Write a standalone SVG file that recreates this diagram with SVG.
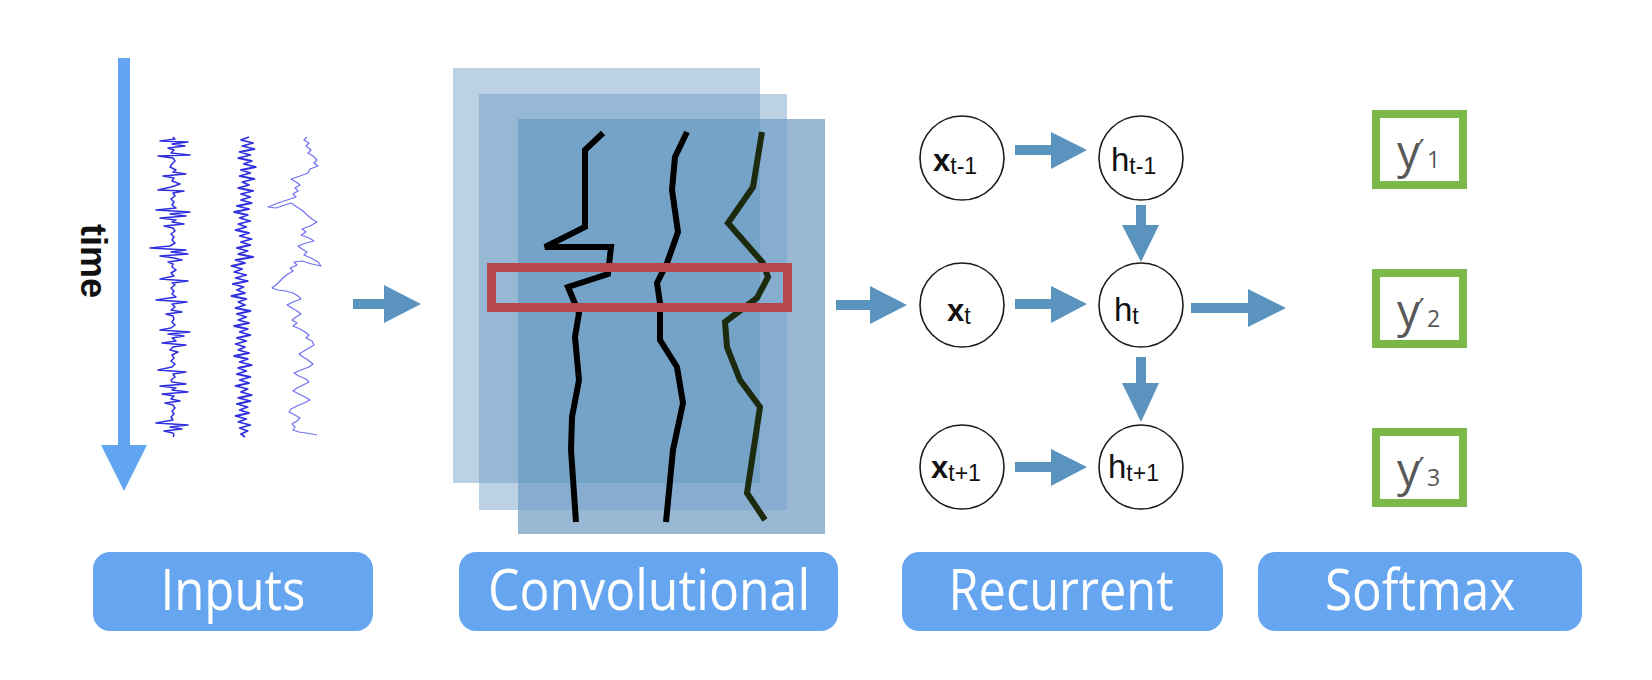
<svg xmlns="http://www.w3.org/2000/svg" width="1652" height="680" viewBox="0 0 1652 680">
<style>
.arrow{fill:#5b93bf}
.node circle{fill:#fff;stroke:#1a1a1a;stroke-width:1.6}
.lbl rect{fill:#66a5ef}
.lbl text{font-family:"Open Sans","Noto Sans",sans-serif;font-size:56px;fill:#fff;text-anchor:middle}
.nt{font-family:"Liberation Sans",Arial,sans-serif;fill:#111}
.sm rect{fill:none;stroke:#7ab84a;stroke-width:8}
.sm text{font-family:"Open Sans","Noto Sans",sans-serif;fill:#585858}
.feat{fill:none;stroke-width:6;stroke-linejoin:miter}
.sig{fill:none;stroke-linejoin:round}
</style>
<rect width="1652" height="680" fill="#fff"/>

<g id="inputs">
  <rect x="118" y="58" width="12" height="388" fill="#62a5f3"/>
  <polygon points="101,445 147,445 124,491" fill="#62a5f3"/>
  <text transform="translate(81,261) rotate(90)" text-anchor="middle" font-family="Liberation Sans, Arial, sans-serif" font-weight="bold" font-size="36" fill="#111">time</text>
  <polyline class="sig" stroke="#2f2fe0" stroke-width="1.5" points="173,137 175,139 160,141 188,142 172,144 185,146 168,148 174,150 171,153 190,155 158,156 173,158 175,161 172,164 170,167 176,170 173,172 186,174 163,176 174,178 172,181 180,184 171,187 158,190 184,191 173,193 175,196 171,199 174,202 172,205 176,208 156,210 190,212 170,214 186,216 160,218 176,220 172,222 184,224 164,226 173,228 175,231 171,234 174,237 172,240 175,243 170,246 150,248 186,250 171,252 188,254 160,256 174,258 182,260 168,262 173,264 172,267 176,270 171,273 174,276 160,279 188,281 172,283 175,285 171,288 174,291 172,294 176,297 156,300 187,302 172,304 175,307 171,310 182,312 166,314 173,316 174,319 172,322 175,325 171,328 160,330 190,332 168,334 184,336 172,338 176,341 162,343 186,345 173,347 170,350 178,352 172,355 174,358 171,361 175,364 172,367 158,370 186,372 173,374 175,377 171,380 172,382 186,384 160,386 176,388 172,390 188,392 162,394 174,396 171,399 180,401 165,403 173,405 175,408 172,411 174,414 171,417 173,420 156,423 188,425 170,427 182,429 164,431 173,433 174,435 173,437"/>
  <polyline class="sig" stroke="#2f2fe0" stroke-width="1.8" vector-effect="non-scaling-stroke" transform="translate(245,0) scale(1.35,1) translate(-245,0)" points="248,137 242,140 251,143 243,146 252,149 241,152 249,155 240,158 250,161 244,164 253,167 242,170 249,173 241,176 252,179 243,182 248,185 240,188 251,191 242,194 249,197 242,200 250,203 239,206 248,209 237,212 247,215 241,218 249,221 240,224 246,227 238,230 248,233 241,236 250,239 242,242 249,245 239,248 247,251 240,254 251,257 238,260 245,263 235,266 243,269 237,272 246,275 238,278 247,281 236,284 244,287 239,290 245,293 235,296 246,299 240,302 245,305 238,308 249,311 239,314 246,317 240,320 248,323 237,326 247,329 241,332 249,335 239,338 246,341 238,344 245,347 240,350 248,353 237,356 247,359 241,362 250,365 240,368 246,371 239,374 249,377 241,380 248,383 238,386 247,389 242,392 250,395 240,398 249,401 239,404 247,407 241,410 248,413 238,416 246,419 240,422 249,425 241,428 247,431 242,434 245,437"/>
  <polyline class="sig" stroke="#7070f0" stroke-width="1.2" points="307,137 304,140 309,143 306,146 311,150 308,153 313,156 317,160 314,163 318,166 310,169 308,173 300,176 291,179 296,182 300,185 295,188 298,191 293,194 296,197 287,200 278,203 268,207 276,208 285,205 291,203 297,207 303,211 307,215 312,219 317,222 310,226 302,229 306,232 301,235 309,238 314,241 306,243 298,246 302,249 307,252 304,255 311,258 318,262 321,266 312,264 302,261 294,262 297,265 290,268 293,271 288,274 284,277 280,281 277,284 272,288 278,290 286,291 293,293 298,296 301,299 293,302 287,305 292,308 297,311 301,314 296,317 292,320 297,323 293,326 300,329 305,332 309,335 306,338 312,341 314,345 309,348 304,351 299,354 303,357 308,360 313,364 309,367 301,370 294,373 299,376 306,379 309,382 303,385 297,388 293,391 299,394 305,397 310,400 304,403 297,406 291,409 289,412 295,415 300,418 297,421 292,424 295,427 293,430 299,432 306,433 312,434 317,435"/>
</g>

<g id="convolutional">
  <rect x="453" y="68" width="307" height="415" fill="#bcd2e4"/>
  <rect x="479" y="94" width="308" height="416" fill="#bcd2e4"/>
  <rect x="479" y="94" width="281" height="389" fill="#97b8d4"/>
  <rect x="518" y="119" width="307" height="415" fill="#98b8d3"/>
  <rect x="518" y="119" width="269" height="391" fill="#86add0"/>
  <rect x="518" y="119" width="242" height="364" fill="#74a3c7"/>
  <polyline class="feat" stroke="#000" points="603,133 585,150 585,227 545,247 611,247 608,274 568,287 579,313 575,337 579,380 572,417 571,450 576,522"/>
  <polyline class="feat" stroke="#000" points="687,132 675,157 672,190 678,232 667,263 657,283 660,303 660,340 677,367 683,403 673,450 666,522"/>
  <polyline class="feat" stroke="#1c2a0e" points="762,132 753,187 728,223 763,263 768,277 757,298 725,322 727,347 740,380 760,407 747,493 765,520"/>
  <rect x="491.5" y="267.5" width="296" height="40" fill="none" stroke="#b6474c" stroke-width="9"/>
</g>

<g id="recurrent">
  <g id="node-x1" class="node"><circle cx="962" cy="158" r="42"/><text class="nt" x="933" y="171"><tspan font-weight="bold" font-size="31">x</tspan><tspan font-size="23" dy="3">t-1</tspan></text></g>
  <g id="node-h1" class="node"><circle cx="1141" cy="158" r="42"/><text class="nt" x="1111" y="171"><tspan font-size="33">h</tspan><tspan font-size="23" dy="3">t-1</tspan></text></g>
  <g id="node-x2" class="node"><circle cx="962" cy="305" r="42"/><text class="nt" x="947" y="321"><tspan font-weight="bold" font-size="31">x</tspan><tspan font-size="23" dy="3">t</tspan></text></g>
  <g id="node-h2" class="node"><circle cx="1141" cy="305" r="42"/><text class="nt" x="1114" y="321"><tspan font-size="33">h</tspan><tspan font-size="23" dy="3">t</tspan></text></g>
  <g id="node-x3" class="node"><circle cx="962" cy="467" r="42"/><text class="nt" x="931" y="478"><tspan font-weight="bold" font-size="31">x</tspan><tspan font-size="23" dy="3">t+1</tspan></text></g>
  <g id="node-h3" class="node"><circle cx="1141" cy="467" r="42"/><text class="nt" x="1108" y="478"><tspan font-size="33">h</tspan><tspan font-size="23" dy="3">t+1</tspan></text></g>
</g>

<g id="softmax" class="sm">
  <g id="y1"><rect x="1376" y="114" width="87" height="71"/><text><tspan x="1397" y="168" font-size="46">y</tspan><tspan x="1418" y="161" font-size="30" font-family="DejaVu Sans, sans-serif">′</tspan><tspan x="1427" y="168" font-size="23">1</tspan></text></g>
  <g id="y2"><rect x="1376" y="273" width="87" height="71"/><text><tspan x="1397" y="327" font-size="46">y</tspan><tspan x="1418" y="320" font-size="30" font-family="DejaVu Sans, sans-serif">′</tspan><tspan x="1427" y="327" font-size="23">2</tspan></text></g>
  <g id="y3"><rect x="1376" y="432" width="87" height="71"/><text><tspan x="1397" y="486" font-size="46">y</tspan><tspan x="1418" y="479" font-size="30" font-family="DejaVu Sans, sans-serif">′</tspan><tspan x="1427" y="486" font-size="23">3</tspan></text></g>
</g>

<g id="connectors" class="arrow">
  <polygon points="353,299 384,299 384,285 421,304 384,323 384,309 353,309"/>
  <polygon points="836,300 870,300 870,286 907,305 870,324 870,310 836,310"/>
  <polygon points="1015,145 1051,145 1051,132 1087,150 1051,169 1051,155 1015,155"/>
  <polygon points="1015,299 1051,299 1051,286 1087,304 1051,323 1051,309 1015,309"/>
  <polygon points="1015,462 1051,462 1051,449 1087,467 1051,486 1051,472 1015,472"/>
  <polygon points="1191,303 1248,303 1248,289 1286,308 1248,327 1248,313 1191,313"/>
  <polygon points="1136,205 1146,205 1146,225 1159,225 1141,262 1122,225 1136,225"/>
  <polygon points="1136,357 1146,357 1146,383 1159,383 1141,422 1122,383 1136,383"/>
</g>

<g id="labels" class="lbl">
  <g id="lbl-inputs"><rect x="93" y="552" width="280" height="79" rx="17"/><text x="233" y="610" textLength="145" lengthAdjust="spacingAndGlyphs">Inputs</text></g>
  <g id="lbl-conv"><rect x="459" y="552" width="379" height="79" rx="17"/><text x="649" y="610" textLength="322" lengthAdjust="spacingAndGlyphs">Convolutional</text></g>
  <g id="lbl-rec"><rect x="902" y="552" width="321" height="79" rx="17"/><text x="1061" y="610" textLength="225" lengthAdjust="spacingAndGlyphs">Recurrent</text></g>
  <g id="lbl-soft"><rect x="1258" y="552" width="324" height="79" rx="17"/><text x="1420" y="610" textLength="190" lengthAdjust="spacingAndGlyphs">Softmax</text></g>
</g>
</svg>
